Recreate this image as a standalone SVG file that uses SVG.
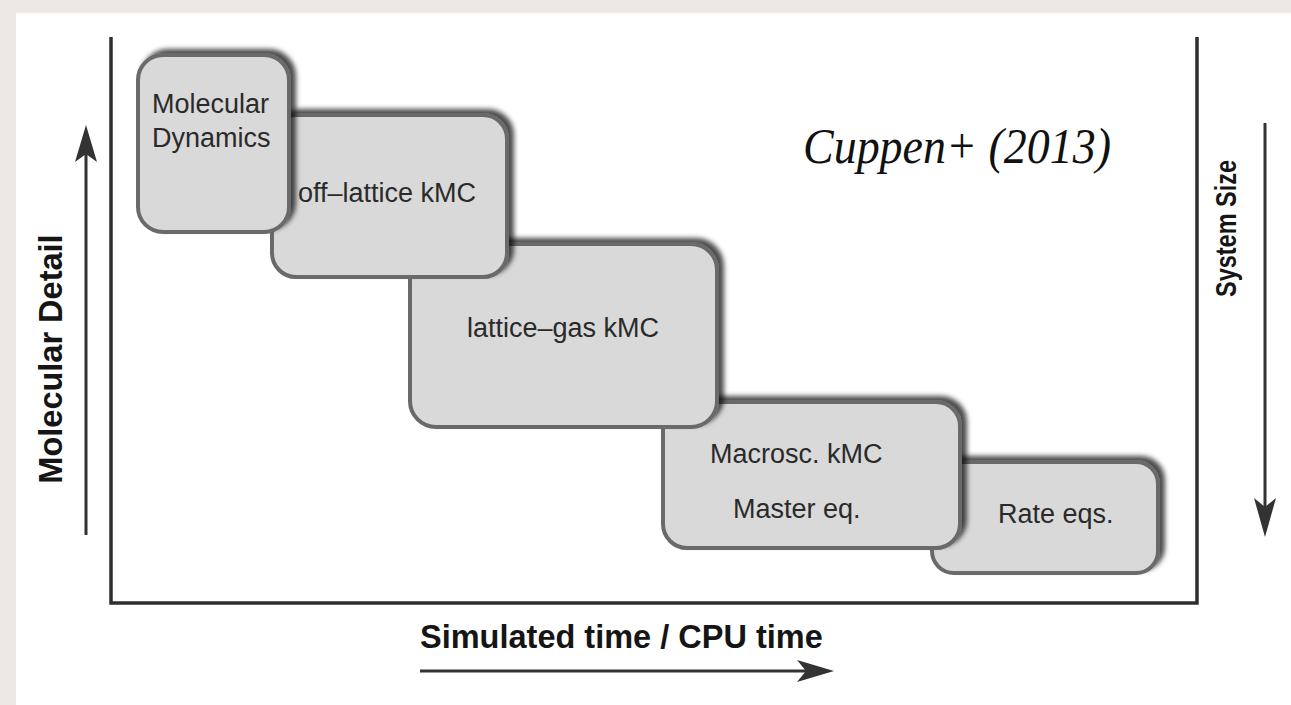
<svg xmlns="http://www.w3.org/2000/svg" width="1291" height="705" viewBox="0 0 1291 705">
  <defs>
    <filter id="boxShadow" x="-10%" y="-15%" width="125%" height="130%">
      <feDropShadow dx="5" dy="-4" stdDeviation="2.5" flood-color="#000" flood-opacity="0.7"/>
    </filter>
    <style>
      .box { fill: #d9d9d9; stroke: #6a6a6a; stroke-width: 4; filter: url(#boxShadow); }
      .lbl { font-family: "Liberation Sans", Arial, sans-serif; font-size: 27px; fill: #2a2a2a; }
      .axisLbl { font-family: "Liberation Sans", Arial, sans-serif; font-weight: bold; fill: #151515; }
      .frame { fill: none; stroke: #2e2e2e; stroke-width: 3.5; }
      .shaft { stroke: #333; stroke-width: 3; fill: none; }
      .head { fill: #333; }
    </style>
  </defs>

  <!-- page background and white panel -->
  <rect x="0" y="0" width="1291" height="705" fill="#ebe8e5"/>
  <rect x="16" y="13" width="1275" height="692" fill="#ffffff"/>

  <!-- open frame: left, bottom, right -->
  <path class="frame" d="M111,37 V603 H1197 V37"/>

  <!-- axis arrows -->
  <g id="axes">
    <line class="shaft" x1="86" y1="535" x2="86" y2="150"/>
    <path class="head" d="M86,125 L97,162 L86,154 L75,162 Z"/>
    <line class="shaft" x1="1265" y1="123" x2="1265" y2="510"/>
    <path class="head" d="M1265,537 L1254,498 L1265,507 L1276,498 Z"/>
    <line class="shaft" x1="420" y1="671" x2="810" y2="671"/>
    <path class="head" d="M834,671 L797,660 L806,671 L797,682 Z"/>
  </g>

  <!-- axis labels -->
  <text class="axisLbl" font-size="32.5" transform="translate(62,359) rotate(-90)" text-anchor="middle">Molecular Detail</text>
  <text class="axisLbl" font-size="29" transform="translate(1236,297) rotate(-90)" textLength="137" lengthAdjust="spacingAndGlyphs">System Size</text>
  <text class="axisLbl" font-size="32.5" x="420" y="648">Simulated time / CPU time</text>

  <!-- citation -->
  <text x="803" y="163" font-family="'Liberation Serif', 'Times New Roman', serif" font-style="italic" font-size="50" textLength="308" lengthAdjust="spacingAndGlyphs" fill="#111">Cuppen+ (2013)</text>

  <!-- method boxes, drawn from the coarsest to the finest so each finer one sits on top -->
  <g id="rate-eqs">
    <rect class="box" x="932" y="462" width="226" height="111" rx="22"/>
    <text class="lbl" x="998" y="523">Rate eqs.</text>
  </g>
  <g id="macrosc-kmc">
    <rect class="box" x="663" y="402" width="297" height="146" rx="24"/>
    <text class="lbl" x="710" y="463">Macrosc. kMC</text>
    <text class="lbl" x="733" y="518">Master eq.</text>
  </g>
  <g id="lattice-gas-kmc">
    <rect class="box" x="410" y="244" width="307" height="183" rx="26"/>
    <text class="lbl" x="467" y="337">lattice–gas kMC</text>
  </g>
  <g id="off-lattice-kmc">
    <rect class="box" x="272" y="115" width="235" height="162" rx="24"/>
    <text class="lbl" x="298" y="202">off–lattice kMC</text>
  </g>
  <g id="molecular-dynamics">
    <rect class="box" x="138" y="55" width="151" height="177" rx="25"/>
    <text class="lbl" x="152" y="113">Molecular</text>
    <text class="lbl" x="152" y="147">Dynamics</text>
  </g>
</svg>
